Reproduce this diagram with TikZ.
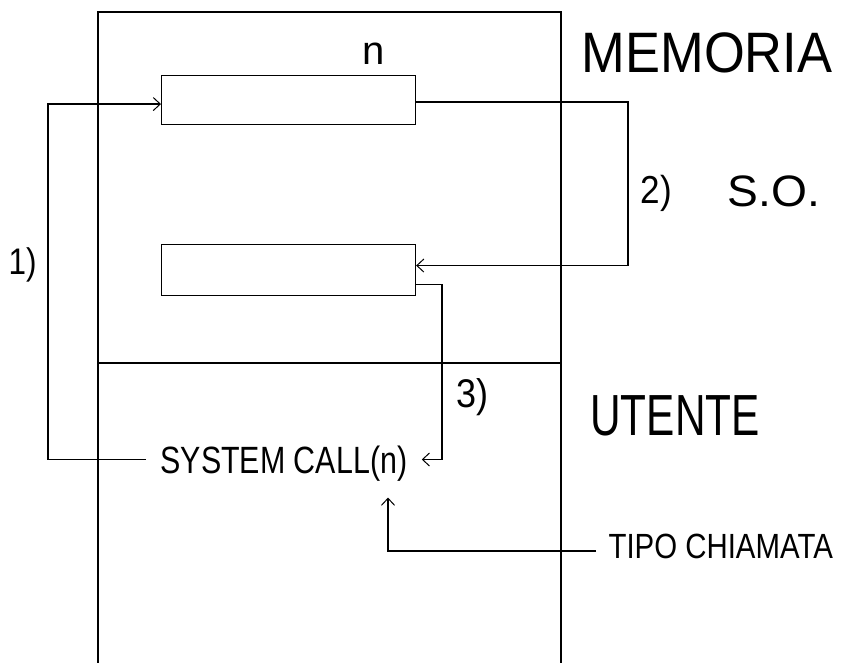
\documentclass[tikz,border=0pt]{standalone}
\usepackage{fontspec}
\setmainfont{Liberation Sans}
\usetikzlibrary{arrows.meta}
\newcommand{\hsq}[2]{\scalebox{#1}[1]{#2}}
\begin{document}
\begin{tikzpicture}[x=1pt,y=-1pt,line width=1.1pt,
  conn/.style={-{Straight Barb[length=7pt,width=13pt,line width=1pt]},line width=1.1pt},
  box/.style={draw,inner sep=0pt,anchor=north west},
  txt/.style={inner sep=0pt,anchor=base west,text depth=0pt}]
\useasboundingbox (0,0) rectangle (845,663);
% frame
\draw (98,663) -- (98,12) -- (561,12) -- (561,663);
\draw (98,363) -- (561,363);
% boxes
\node[box,minimum width=254pt,minimum height=49pt] (b1) at (161,75) {};
\node[box,minimum width=254pt,minimum height=51pt] (b2) at (161,244) {};
% labels
\node[txt,text height=22pt] (n) at (362,65) {\fontsize{40}{40}\selectfont\hsq{1}{n}};
\node[txt,anchor=base,text height=41pt] (mem) at (707,73) {\fontsize{57}{57}\selectfont\hsq{0.92}{MEMORIA}};
\node[txt,anchor=base,text height=30pt] (so) at (774,206) {\fontsize{44}{44}\selectfont\hsq{1.05}{S.O.}};
\node[txt,anchor=base,text height=42pt] (ut) at (675,435) {\fontsize{58}{58}\selectfont\hsq{0.73}{UTENTE}};
\node[txt,text height=26pt] (l1) at (8,274) {\fontsize{37}{37}\selectfont\hsq{0.85}{1)}};
\node[txt,text height=28pt] (l2) at (640,204) {\fontsize{39}{39}\selectfont\hsq{0.9}{2)}};
\node[txt,text height=28pt] (l3) at (456,407) {\fontsize{40}{40}\selectfont\hsq{0.9}{3)}};
\node[txt,text height=27pt,inner xsep=14pt] (sc) at (146,473) {\fontsize{38}{38}\selectfont\hsq{0.8}{SYSTEM CALL(n)}};
\node[txt,text height=25pt,inner xsep=12pt] (tc) at (596,558) {\fontsize{35}{35}\selectfont\hsq{0.84}{TIPO CHIAMATA}};
% guide coordinates
\coordinate (x1) at (48,0);
\coordinate (x2) at (628,0);
\coordinate (x3) at (442,0);
\coordinate (x4) at (388,0);
% connectors
\draw[conn] (sc.west) -- (sc.west -| x1) |- ([yshift=-4pt]b1.west);
\draw[conn] ([yshift=-2pt]b1.east) -- ([yshift=-2pt]b1.east -| x2) |- ([yshift=4.5pt]b2.east);
\draw[conn] ([yshift=-14.5pt]b2.east) -- ([yshift=-14.5pt]b2.east -| x3) |- (sc.east);
\draw[conn] ([yshift=-5.5pt]tc.west) -| ([yshift=-24pt]sc.south -| x4);
\end{tikzpicture}
\end{document}
